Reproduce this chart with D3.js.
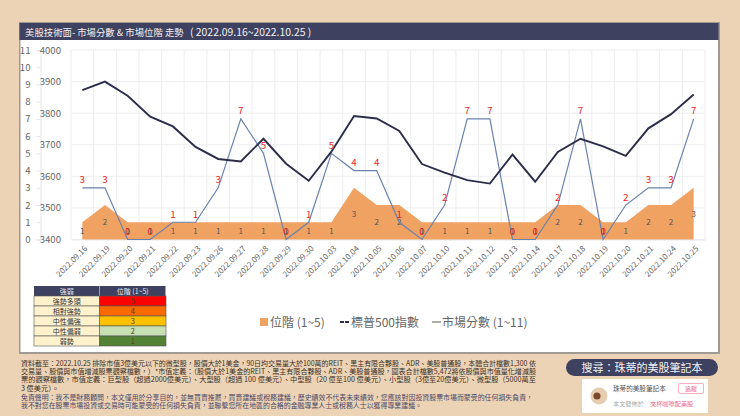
<!DOCTYPE html>
<html><head><meta charset="utf-8">
<script src="https://cdn.jsdelivr.net/npm/d3@7/dist/d3.min.js"></script>
<style>
html,body{margin:0;padding:0;background:#EDD3B5;overflow:hidden}
svg{display:block}
text{font-family:"Noto Sans CJK TC","Noto Sans",sans-serif}
</style></head><body>
<svg id="c" width="740" height="416"></svg>
<script>
const dates=["2022.09.16","2022.09.19","2022.09.20","2022.09.21","2022.09.22","2022.09.23","2022.09.26","2022.09.27","2022.09.28","2022.09.29","2022.09.30","2022.10.03","2022.10.04","2022.10.05","2022.10.06","2022.10.07","2022.10.10","2022.10.11","2022.10.12","2022.10.13","2022.10.14","2022.10.17","2022.10.18","2022.10.19","2022.10.20","2022.10.21","2022.10.24","2022.10.25"];
const spx=[3873,3900,3855,3789,3758,3693,3655,3647,3719,3640,3586,3678,3791,3783,3744,3639,3612,3588,3577,3669,3583,3677,3719,3695,3665,3752,3797,3859];
const score=[3,3,0,0,1,1,3,7,5,0,1,5,4,4,1,0,2,7,7,0,0,2,7,0,2,3,3,7];
const level=[1,2,1,1,1,1,1,1,1,1,1,1,3,2,2,1,1,1,1,1,1,2,2,1,1,2,2,3];
const scoreTicks=[0,1,2,3,4,5,6,7,8,9,10,11];
const spxTicks=[3400,3500,3600,3700,3800,3900,4000];
const tableHead=["強弱","位階 (1~5)"];
const tableNames=["強勢多頭","相對強勢","中性偏強","中性偏弱","弱勢"];
const tableLevels=[5,4,3,2,1];
const tableColors=["#FF0000","#F96A00","#FFC000","#C6E0B4","#548235"];
const titleMain="美股技術面- 市場分數 & 市場位階 走勢";
const titleRange="( 2022.09.16~2022.10.25 )";
const notes=[
"資料截至：2022.10.25 排除市值3億美元以下的微型股，股價大於1美金，90日均交易量大於100萬的REIT、黑主有限合夥股、ADR、美股普通股，本體合計檔數1,300 依",
"交易量、股價與市值增減股票觀察檔數，）*市值定義：（股價大於1美金的REIT、黑主有限合夥股、ADR、美股普通股，圖表合計檔數5,472將依股價與市值量化增減股",
"票的觀察檔數，市值定義：巨型股（超過2000億美元）、大型股（超過 100 億美元）、中型股（20 億至100 億美元）、小型股（3億至20億美元）、微型股（5000萬至",
"3 億美元）。"];
const noteWidths=[515,515,515,38];
const disclaimer=[
"免責聲明：我不是財務顧問，本文僅用於分享目的，並無買賣推薦，買賣建議或稅務建議，歷史績效不代表未來績效，您應該對因投資股票市場而蒙受的任何損失負責，",
"我不對您在股票市場投資或交易時可能蒙受的任何損失負責，並聯繫您所在地區的合格的金融專業人士或稅務人士以獲得專業建議。"];
const disclaimerWidths=[512,401];

const svg=d3.select("#c");
svg.append("rect").attr("x",19).attr("y",22).attr("width",701).attr("height",332).attr("fill","#a09a96");
svg.append("rect").attr("x",20.5).attr("y",23).attr("width",697.5).attr("height",329).attr("fill","#fff");
svg.append("rect").attr("x",19.5).attr("y",23).attr("width",699).attr("height",17).attr("fill","#3E4160");
svg.append("text").attr("x",25).attr("y",35.5).attr("fill","#F2F2F2").attr("font-size",9.4).text(titleMain);
svg.append("text").attr("x",190).attr("y",35.5).attr("fill","#F2F2F2").attr("font-size",10.4).attr("font-family",'"Noto Sans",sans-serif').text(titleRange);

const x=d3.scaleBand().domain(dates).range([71,705]);
const cx=d=>x(d)+x.bandwidth()/2;
const yS=d3.scaleLinear().domain([0,11]).range([239.5,50]);
const yP=d3.scaleLinear().domain([3400,4000]).range([239.5,50]);

const grid=svg.append("g").attr("stroke","#EEEEF0").attr("stroke-width",1);
grid.selectAll(".h").data(spxTicks).join("line").attr("x1",71).attr("x2",705).attr("y1",d=>yP(d)).attr("y2",d=>yP(d));
grid.selectAll(".v").data(dates.concat(["end"])).join("line")
  .attr("x1",d=>d==="end"?705:x(d)).attr("x2",d=>d==="end"?705:x(d)).attr("y1",50).attr("y2",239.5);

const ax1=svg.append("g").attr("transform","translate(40.5,0)").call(d3.axisLeft(yS).tickValues(scoreTicks).tickSize(4).tickPadding(6));
const ax2=svg.append("g").attr("transform","translate(71,0)").call(d3.axisLeft(yP).tickValues(spxTicks).tickFormat(d3.format("d")).tickSize(0).tickPadding(10));
[ax1,ax2].forEach(a=>{a.selectAll("text").attr("fill","#666").attr("font-size",9.6).attr("font-family",'"Noto Sans",sans-serif');a.select(".domain").attr("stroke","#E4E4E8");a.selectAll("line").attr("stroke","#E4E4E8");});
ax2.select(".domain").remove();

const ax3=svg.append("g").attr("transform","translate(0,239.5)").call(d3.axisBottom(x).tickSize(0));
ax3.select(".domain").attr("stroke","#E8E8EA");
ax3.selectAll("text").attr("fill","#666").attr("font-size",8).attr("font-family",'"Noto Sans",sans-serif')
  .attr("text-anchor","end").attr("dx",2).attr("dy",0).attr("transform","translate(2,9) rotate(-45)");

svg.append("path").datum(dates).attr("fill","#F0A262")
  .attr("d",d3.area().x(cx).y0(yS(0)).y1((d,i)=>yS(level[i])));

svg.append("g").selectAll("text").data(dates).join("text").attr("x",cx).attr("y",(d,i)=>yS(level[i]/2)+3)
  .attr("text-anchor","middle").attr("font-size",8).attr("fill","#555").attr("font-family",'"Noto Sans",sans-serif').text((d,i)=>level[i]);

svg.append("path").datum(dates).attr("fill","none").attr("stroke","#6A82AD").attr("stroke-width",1.2)
  .attr("d",d3.line().x(cx).y((d,i)=>yS(score[i])));
svg.append("path").datum(dates).attr("fill","none").attr("stroke","#2B2D4A").attr("stroke-width",1.9)
  .attr("d",d3.line().x(cx).y((d,i)=>yP(spx[i])));
svg.append("g").selectAll("text").data(dates).join("text").attr("x",cx).attr("y",(d,i)=>yS(score[i])-4.5)
  .attr("text-anchor","middle").attr("font-size",9.8).attr("fill","#E8262A").attr("font-family",'"Noto Sans",sans-serif').text((d,i)=>score[i]);

const tx=[34,99.5,166], rowH=10, ty=286;
const tb=svg.append("g");
tb.selectAll(".hd").data(tableHead).join("rect").attr("x",(d,i)=>tx[i]).attr("y",ty).attr("width",(d,i)=>tx[i+1]-tx[i]-0.5).attr("height",rowH).attr("fill","#3E4160");
tb.selectAll(".ht").data(tableHead).join("text").attr("x",(d,i)=>(tx[i]+tx[i+1])/2).attr("y",ty+8).attr("text-anchor","middle").attr("font-size",7).attr("fill","#E4E6EE").text(d=>d);
tableNames.forEach((n,i)=>{
  const y=ty+rowH*(i+1);
  tb.append("rect").attr("x",tx[0]).attr("y",y).attr("width",tx[1]-tx[0]).attr("height",rowH).attr("fill","#FFF2CC").attr("stroke","#555").attr("stroke-width",.6);
  tb.append("rect").attr("x",tx[1]).attr("y",y).attr("width",tx[2]-tx[1]).attr("height",rowH).attr("fill",tableColors[i]).attr("stroke","#555").attr("stroke-width",.6);
  tb.append("text").attr("x",(tx[0]+tx[1])/2).attr("y",y+8).attr("text-anchor","middle").attr("font-size",7).attr("fill","#333").text(n);
  tb.append("text").attr("x",(tx[1]+tx[2])/2).attr("y",y+8).attr("text-anchor","middle").attr("font-size",7.5).attr("fill","#5a3a10").text(tableLevels[i]);
});

const lg=svg.append("g").attr("fill","#666").attr("font-size",12);
lg.append("rect").attr("x",260).attr("y",318).attr("width",8).attr("height",8).attr("fill","#F0A262");
lg.append("text").attr("x",270).attr("y",326.5).text("位階 (1~5)");
lg.append("line").attr("x1",340).attr("x2",349).attr("y1",322).attr("y2",322).attr("stroke","#2B2D4A").attr("stroke-width",2).attr("stroke-dasharray","4 1");
lg.append("text").attr("x",351).attr("y",326.5).text("標普500指數");
lg.append("line").attr("x1",432).attr("x2",441).attr("y1",322).attr("y2",322).attr("stroke","#777").attr("stroke-width",1.2);
lg.append("text").attr("x",442).attr("y",326.5).text("市場分數 (1~11)");

const ny=[366,374,382,390.5];
svg.append("g").selectAll("text").data(notes).join("text").attr("x",21).attr("y",(d,i)=>ny[i]).attr("font-size",7).attr("fill","#3a3026")
  .attr("textLength",(d,i)=>noteWidths[i]).attr("lengthAdjust","spacingAndGlyphs").text(d=>d);
const dy=[399.5,408];
svg.append("g").selectAll("text").data(disclaimer).join("text").attr("x",21).attr("y",(d,i)=>dy[i]).attr("font-size",7).attr("fill","#4a4a68")
  .attr("textLength",(d,i)=>disclaimerWidths[i]).attr("lengthAdjust","spacingAndGlyphs").text(d=>d);

svg.append("rect").attr("x",566).attr("y",359).attr("width",152).attr("height",17).attr("rx",8.5).attr("fill","#3E4160");
svg.append("text").attr("x",642).attr("y",371.5).attr("text-anchor","middle").attr("font-size",11).attr("fill","#F2F2F2").text("搜尋：珠蒂的美股筆記本");
svg.append("rect").attr("x",582).attr("y",379).attr("width",126).attr("height",34).attr("fill","#fff");
svg.append("circle").attr("cx",599).attr("cy",396).attr("r",8.5).attr("fill","#E6CDB0");
svg.append("circle").attr("cx",597).attr("cy",396).attr("r",3.6).attr("fill","#7B4A2E");
svg.append("text").attr("x",613).attr("y",391).attr("font-size",6.6).attr("fill","#555").text("珠蒂的美股筆記本");
svg.append("rect").attr("x",678.5).attr("y",383.5).attr("width",25).attr("height",10).attr("rx",1.5).attr("fill","#fff").attr("stroke","#F28CA5").attr("stroke-width",.7);
svg.append("text").attr("x",691).attr("y",391).attr("text-anchor","middle").attr("font-size",6).attr("fill","#EE6C8C").text("追蹤");
svg.append("text").attr("x",613).attr("y",406).attr("font-size",6.2).attr("fill","#aaa").text("本文發佈於");
svg.append("text").attr("x",650).attr("y",406).attr("font-size",6.2).attr("fill","#EE6C8C").text("來杯咖啡配美股");
</script></body></html>
